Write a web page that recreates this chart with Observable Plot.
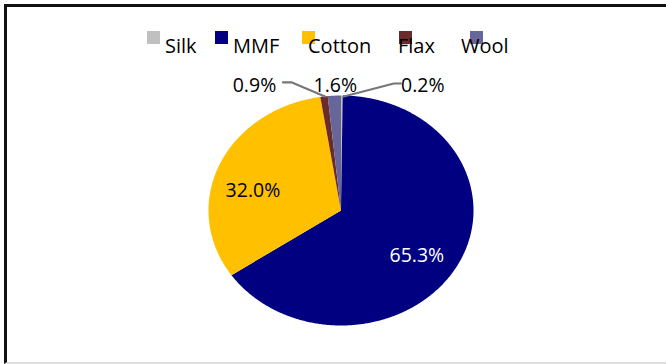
<!DOCTYPE html>
<html>
<head>
<meta charset="utf-8">
<script src="https://cdn.jsdelivr.net/npm/d3@7"></script>
<script src="https://cdn.jsdelivr.net/npm/@observablehq/plot@0.6"></script>
<style>
  html, body { margin: 0; padding: 0; background: #fff; }
  #wrap { position: relative; width: 666px; height: 364px; overflow: hidden; font-family: "Open Sans", sans-serif; }
  #wrap svg { position: absolute; left: 0; top: 0; }
  #frame { position: absolute; left: 4px; top: 4px; width: 720px; height: 355px;
           border-left: 3px solid #111; border-top: 3px solid #111; border-bottom: 2px solid #ddd; pointer-events: none; }
  .sw { position: absolute; width: 13px; height: 13px; top: 31px; }
  .lt { position: absolute; top: 32px; font-size: 20px; color: #000; white-space: nowrap; line-height: normal; }
</style>
</head>
<body>
<div id="wrap"></div>
<script>
// ---- data ----
const categories = ["Silk", "MMF", "Cotton", "Flax", "Wool"];
const shares = [0.2, 65.3, 32.0, 0.9, 1.6];
const labels = ["0.2%", "65.3%", "32.0%", "0.9%", "1.6%"];
const colors = ["#C0C0C0", "#000080", "#FFC000", "#6B2B2A", "#666699"];

// ---- layout / style (pixels) ----
const RX = 132.5, RY = 115;               // pie pixel radii
const labelRadius = [1, 0.65, 0.65, 1, 1];
const labelShift = [[81, -10], [0, 10], [-9, 10], [-69.5, -11], [1, -10]];
const leaderPath = [
  [[2, 1], [52, -12], [59, -12]],          // Silk
  null, null,
  [[1, 0], [-32, -14], [-41, -14]],        // Flax
  null
];
const legendTextX = [165, 233, 308, 398, 461];
const legendSwatchX = [147, 215, 302, 399, 470];

// ---- derived geometry ----
const total = d3.sum(shares);
let acc = 0;
const slices = shares.map((v, i) => {
  const a0 = acc / total * 2 * Math.PI; acc += v;
  const a1 = acc / total * 2 * Math.PI;
  return {cat: categories[i], label: labels[i], a0, a1, mid: (a0 + a1) / 2, i};
});
const polyPts = [];
for (const s of slices) {
  polyPts.push({cat: s.cat, x: 0, y: 0});
  const n = Math.max(2, Math.ceil((s.a1 - s.a0) / (Math.PI / 360)));
  for (let k = 0; k <= n; k++) {
    const a = s.a0 + (s.a1 - s.a0) * k / n;
    polyPts.push({cat: s.cat, x: Math.sin(a), y: Math.cos(a)});
  }
}
const labelPts = slices.map(s => {
  const r = labelRadius[s.i];
  const [sx, sy] = labelShift[s.i];
  return {cat: s.cat, text: s.label,
          x: r * Math.sin(s.mid) + sx / RX,
          y: r * Math.cos(s.mid) - sy / RY};
});
const leaderPts = [];
slices.forEach(s => {
  const p = leaderPath[s.i];
  if (!p) return;
  const ex = Math.sin(s.mid), ey = Math.cos(s.mid);
  p.forEach(([px, py]) => leaderPts.push({cat: s.cat, x: ex + px / RX, y: ey - py / RY}));
});

const cx = 340.5, cy = 210;
const chart = Plot.plot({
  width: 666,
  height: 364,
  margin: 0,
  x: {domain: [-1, 1], range: [cx - RX, cx + RX], axis: null},
  y: {domain: [-1, 1], range: [cy + RY, cy - RY], axis: null},
  color: {domain: categories, range: colors},
  marks: [
    Plot.line(polyPts, {x: "x", y: "y", z: "cat", fill: "cat", stroke: "none", curve: "linear-closed"}),
    Plot.line(leaderPts, {x: "x", y: "y", z: "cat", stroke: "#777777", strokeWidth: 2.2}),
    Plot.text(labelPts.filter(d => d.cat !== "MMF"), {x: "x", y: "y", text: "text", fill: "black",
      fontSize: 19.5, fontFamily: "Open Sans, sans-serif"}),
    Plot.text(labelPts.filter(d => d.cat === "MMF"), {x: "x", y: "y", text: "text", fill: "white",
      fontSize: 19.5, fontFamily: "Open Sans, sans-serif"})
  ]
});

const wrap = document.getElementById("wrap");
wrap.appendChild(chart);
categories.forEach((c, i) => {
  const sw = document.createElement("div");
  sw.className = "sw";
  sw.style.left = legendSwatchX[i] + "px";
  sw.style.background = colors[i];
  wrap.appendChild(sw);
  const t = document.createElement("div");
  t.className = "lt";
  t.style.left = legendTextX[i] + "px";
  t.textContent = c;
  wrap.appendChild(t);
});
const frame = document.createElement("div");
frame.id = "frame";
wrap.appendChild(frame);
</script>
</body>
</html>
